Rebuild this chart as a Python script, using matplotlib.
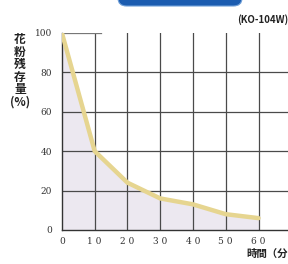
import matplotlib.pyplot as plt
from matplotlib.patches import FancyBboxPatch

# Pollen remaining (%) over time (minutes)
minutes = [0, 10, 20, 30, 40, 50, 60]
remaining = [100, 40, 24, 16, 13, 8, 6]

x_ticks = [0, 10, 20, 30, 40, 50, 60]
x_labels = ['0', '1 0', '2 0', '3 0', '4 0', '5 0', '6 0']
y_ticks = [0, 20, 40, 60, 80, 100]
y_labels = ['0', '20', '40', '60', '80', '100']

fig = plt.figure(figsize=(2.88, 2.64), dpi=100)
ax = fig.add_axes([0.215, 0.129, 0.785, 0.746])

# grid
for x in x_ticks[1:]:
    ax.axvline(x, color='#4a4a4a', lw=0.9, zorder=1)
for y in y_ticks[1:-1]:
    ax.axhline(y, color='#4a4a4a', lw=0.9, zorder=1)
ax.plot([0, 12], [100, 100], color='#777777', lw=0.9, zorder=1)

# shaded area and curve
ax.fill_between(minutes, remaining, 0, color='#ece8f0', zorder=0)
ax.plot(minutes, remaining, color='#e6d590', lw=3.2, solid_capstyle='round',
        solid_joinstyle='round', zorder=3)

ax.set_xlim(0, 69)
ax.set_ylim(0, 100)
ax.set_xticks(x_ticks)
ax.set_xticklabels(x_labels, family='DejaVu Serif', fontsize=6.5, color='#333333')
ax.set_yticks(y_ticks)
ax.set_yticklabels(y_labels, family='DejaVu Serif', fontsize=6.5, color='#333333')
ax.tick_params(length=0, pad=7)
ax.tick_params(axis='x', pad=5)

for side in ['top', 'right']:
    ax.spines[side].set_visible(False)
ax.spines['left'].set_color('#333333')
ax.spines['bottom'].set_color('#333333')
ax.spines['left'].set_linewidth(1.0)
ax.spines['bottom'].set_linewidth(1.0)

# vertical y label
fig.text(20 / 288, 1 - 33 / 264, '花\n粉\n残\n存\n量\n(%)', family=['Noto Sans CJK JP', 'DejaVu Sans'],
         fontsize=8.5, fontweight='bold', ha='center', va='top', linespacing=0.95, color='#222222')

fig.text(1.0, 1 - 20 / 264, '(KO-104W)', family=['Noto Sans CJK JP', 'DejaVu Sans'],
         fontsize=7, fontweight='bold', ha='right', va='center', color='#222222')

fig.text(1.0, 1 - 254 / 264, '時間（分', family=['Noto Sans CJK JP', 'DejaVu Sans'],
         fontsize=7.5, fontweight='bold', ha='right', va='center', color='#222222')

# blue banner at top (cropped)
banner = FancyBboxPatch((118 / 288, 1 - 6 / 264), 124 / 288, 20 / 264,
                        boxstyle='round,pad=0,rounding_size=0.03',
                        transform=fig.transFigure, facecolor='#1b5cb0',
                        edgecolor='#6f9fd8', lw=0.8)
fig.patches.append(banner)

fig.savefig('out.png', dpi=100)
